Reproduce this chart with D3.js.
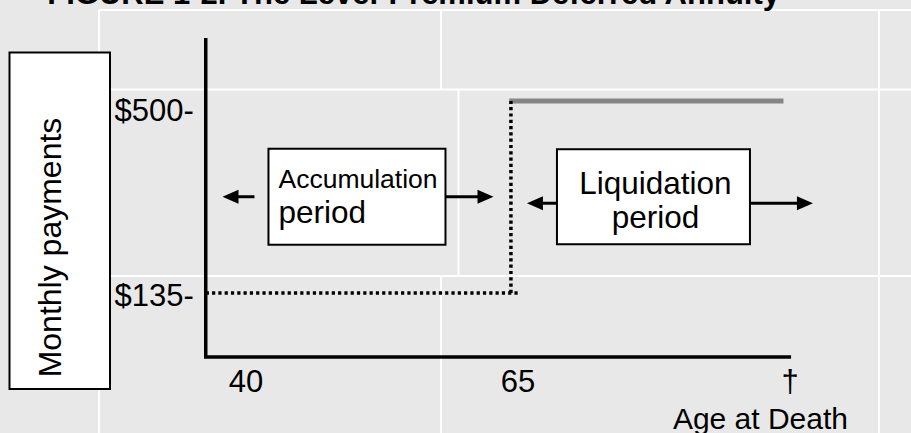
<!DOCTYPE html>
<html lang="en">
<head>
  <meta charset="UTF-8">
  <title>The Level-Premium Deferred Annuity</title>
  <script src="https://d3js.org/d3.v7.min.js"></script>
  <style>
    body { margin: 0; background: #e8e8e8; }
    svg { display: block; font-family: "Liberation Sans", Arial, sans-serif; }
  </style>
</head>
<body>
  <svg width="911" height="433"></svg>

  <script>
    // ages along the bottom (90 stands in for the age at death)
    const ageTicks = [40, 65, 90];
    const ageTickLabels = ["40", "65", "\u2020"];
    // monthly payment levels
    const payTicks = [500, 135];
    const payTickLabels = ["$500-", "$135-"];

    // premium paid while saving, then the jump to the annuity payout
    const premiumLine = [{age: 36.3, pay: 135}, {age: 65, pay: 135}];
    const stepLine = [{age: 64.35, pay: 135}, {age: 64.35, pay: 500}];
    const payoutLine = [{age: 64.2, pay: 500}, {age: 89.4, pay: 500}];

    const phaseNames = [["Accumulation", "period"], ["Liquidation", "period"]];
    const phaseAges = [50.2, 77.45];
    const phasePay = 318;

    const svg = d3.select("svg");
    const W = 911, H = 433;

    const x = d3.scaleLinear().domain([40, 90]).range([246, 790]);
    const y = d3.scaleLinear().domain([135, 500]).range([293, 101]);
    // the tick labels sit a little off the lines they name
    const yLabel = d3.scaleLinear().domain([135, 500]).range([295, 110.5]);
    const axisAge = [36.3, 90.1];
    const axisPay = [13.3, 620];

    // panel background + white grid
    svg.append("rect").attr("width", W).attr("height", H).attr("fill", "#e8e8e8");
    const grid = svg.append("g").attr("stroke", "#fff").attr("stroke-width", 2);
    [[99, 10, 911, 10], [99, 89.5, 911, 89.5], [99, 276, 911, 276],
     [99, 10, 99, 433], [441, 10, 441, 89.5], [458.5, 89.5, 458.5, 276],
     [441, 276, 441, 433], [879, 10, 879, 433]]
      .forEach(s => grid.append("line")
        .attr("x1", s[0]).attr("y1", s[1]).attr("x2", s[2]).attr("y2", s[3]));

    // title (cut off at the top edge)
    svg.append("text")
      .attr("x", 780).attr("y", 4)
      .attr("text-anchor", "end")
      .style("font-size", "31px").style("font-weight", "bold")
      .text("FIGURE 1-2. The Level-Premium Deferred Annuity");

    // y axis title in a box
    svg.append("rect")
      .attr("x", 9.5).attr("y", 52.5).attr("width", 100.5).attr("height", 336.5)
      .attr("fill", "#fff").attr("stroke", "#000").attr("stroke-width", 2);
    svg.append("text")
      .attr("transform", "translate(61,247.5) rotate(-90)")
      .attr("text-anchor", "middle")
      .style("font-size", "32px")
      .text("Monthly payments");

    // axes
    svg.append("path")
      .attr("d", d3.line()([[x(axisAge[0]), y(axisPay[1])], [x(axisAge[0]), y(axisPay[0])], [x(axisAge[1]), y(axisPay[0])]]))
      .attr("fill", "none").attr("stroke", "#000").attr("stroke-width", 3.5);

    svg.append("g").selectAll("text")
      .data(payTicks)
      .join("text")
      .attr("x", x(axisAge[0]) - 12)
      .attr("y", d => yLabel(d))
      .attr("dy", "0.35em")
      .attr("text-anchor", "end")
      .style("font-size", "31px")
      .text((d, i) => payTickLabels[i]);

    svg.append("g").selectAll("text")
      .data(ageTicks)
      .join("text")
      .attr("x", d => x(d))
      .attr("y", 392)
      .attr("text-anchor", "middle")
      .style("font-size", "31px")
      .text((d, i) => ageTickLabels[i]);

    svg.append("text")
      .attr("x", 848).attr("y", 429)
      .attr("text-anchor", "end")
      .style("font-size", "30px")
      .text("Age at Death");

    // payment lines
    const line = d3.line().x(d => x(d.age)).y(d => y(d.pay));
    svg.append("path").datum(payoutLine).attr("d", line)
      .attr("fill", "none").attr("stroke", "#858585").attr("stroke-width", 5);
    [premiumLine, stepLine].forEach(seg => svg.append("path").datum(seg).attr("d", line)
      .attr("fill", "none").attr("stroke", "#000").attr("stroke-width", 3.5)
      .attr("stroke-dasharray", "3.2,3.1"));

    // phase boxes with arrows
    const arrow = (x1, x2, yy) => {
      const dir = Math.sign(x2 - x1);
      svg.append("line").attr("x1", x1).attr("y1", yy).attr("x2", x2 - dir * 12).attr("y2", yy)
        .attr("stroke", "#000").attr("stroke-width", 3);
      svg.append("path")
        .attr("d", `M${x2},${yy} L${x2 - dir * 16},${yy - 7} L${x2 - dir * 16},${yy + 7} Z`)
        .attr("fill", "#000");
    };

    // accumulation
    {
      const cx = x(phaseAges[0]), cy = y(phasePay);
      const w = 177, h = 96, left = cx - w / 2, top = cy - h / 2;
      arrow(left - 14, left - 46, cy);
      arrow(left + w, left + w + 48, cy);
      svg.append("rect").attr("x", left).attr("y", top).attr("width", w).attr("height", h)
        .attr("fill", "#fff").attr("stroke", "#000").attr("stroke-width", 2);
      svg.append("text").attr("x", left + 10).attr("y", top + 39)
        .style("font-size", "26.5px").text(phaseNames[0][0]);
      svg.append("text").attr("x", left + 10).attr("y", top + 74)
        .style("font-size", "31.5px").text(phaseNames[0][1]);
    }

    // liquidation
    {
      const cx = x(phaseAges[1]), cy = y(phasePay);
      const w = 193, h = 95, left = cx - w / 2, top = cy - h / 2;
      arrow(left, left - 30, cy + 6.5);
      arrow(left + w, left + w + 63, cy + 6.5);
      svg.append("rect").attr("x", left).attr("y", top).attr("width", w).attr("height", h)
        .attr("fill", "#fff").attr("stroke", "#000").attr("stroke-width", 2);
      svg.append("text").attr("x", cx + 2).attr("y", top + 45).attr("text-anchor", "middle")
        .style("font-size", "31.5px").text(phaseNames[1][0]);
      svg.append("text").attr("x", cx + 2).attr("y", top + 79).attr("text-anchor", "middle")
        .style("font-size", "31.5px").text(phaseNames[1][1]);
    }
  </script>
</body>
</html>
